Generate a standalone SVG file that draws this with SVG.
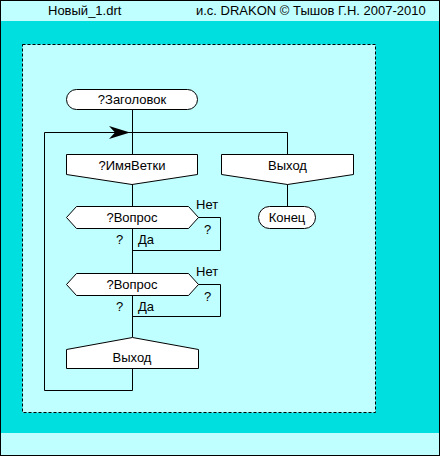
<svg xmlns="http://www.w3.org/2000/svg" width="440" height="456" viewBox="0 0 440 456">
<style>
.n{fill:#fff;stroke:#000;stroke-width:1}
.c{fill:none;stroke:#000;stroke-width:1}
text{font-family:"Liberation Sans",Arial,sans-serif;font-size:13px;fill:#000}
.m{text-anchor:middle}
</style>
<rect x="0" y="0" width="440" height="456" fill="#00DFDF"/>
<rect x="0" y="0" width="440" height="21" fill="#C0FFFF"/>
<rect x="0" y="433" width="440" height="23" fill="#C0FFFF"/>
<rect x="0.5" y="0.5" width="439" height="455" fill="none" stroke="#000"/>
<text x="48" y="15">Новый_1.drt</text>
<text x="196" y="15">и.с. DRAKON © Тышов Г.Н. 2007-2010</text>
<rect x="22.5" y="44.5" width="353" height="368" fill="#C0FFFF" stroke="#000" stroke-dasharray="3 2"/>
<g id="connectors">
<path class="c" d="M132.5 109V154M132.5 184V206M132.5 228V273M132.5 295V337M132.5 368V390.5H44.5V132.5H287.5V154M287.5 184V206"/>
<path class="c" d="M198 217.5H220.5V250.5H132.5M198 284.5H220.5V316.5H132.5"/>
<path d="M130 132.5L109 126L115 132.5L109 139Z" fill="#000"/>
</g>
<g id="start"><rect class="n" x="66.5" y="89.5" width="131" height="20" rx="10"/><text class="m" x="132" y="104">?Заголовок</text></g>
<g id="branch1"><path class="n" d="M66.5 154.5H197.5V174.5L132 184.5L66.5 174.5Z"/><text class="m" x="132" y="170">?ИмяВетки</text></g>
<g id="branch2"><path class="n" d="M221.5 154.5H353.5V174.5L287.5 184.5L221.5 174.5Z"/><text class="m" x="287.5" y="170">Выход</text></g>
<g id="end"><rect class="n" x="258.5" y="206.5" width="57" height="22" rx="11"/><text class="m" x="287" y="222">Конец</text></g>
<g id="q1"><path class="n" d="M66.5 217.5L76.5 206.5H188.5L198.5 217.5L188.5 228.5H76.5Z"/><text class="m" x="132" y="222">?Вопрос</text>
<text x="196" y="209">Нет</text><text x="204" y="234">?</text><text x="116" y="244">?</text><text x="138" y="244">Да</text></g>
<g id="q2"><path class="n" d="M66.5 284.5L76.5 273.5H188.5L198.5 284.5L188.5 295.5H76.5Z"/><text class="m" x="132" y="289">?Вопрос</text>
<text x="196" y="276">Нет</text><text x="204" y="301">?</text><text x="116" y="311">?</text><text x="138" y="311">Да</text></g>
<g id="exit"><path class="n" d="M66.5 349.5L132.5 337.5L198.5 349.5V368.5H66.5Z"/><text class="m" x="132" y="362">Выход</text></g>
</svg>
